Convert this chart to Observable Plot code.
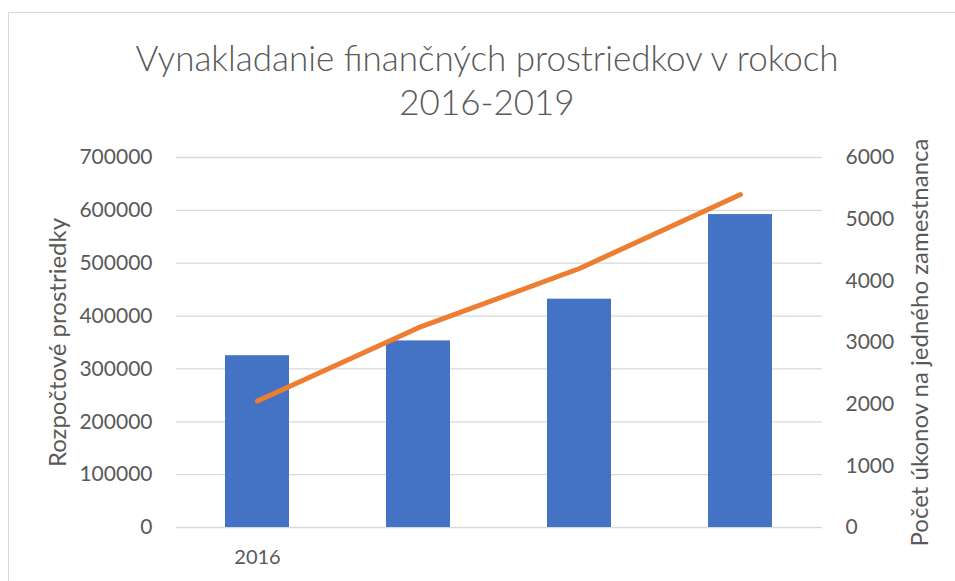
<!DOCTYPE html>
<html>
<head>
<meta charset="utf-8">
<script src="https://cdn.jsdelivr.net/npm/d3@7"></script>
<script src="https://cdn.jsdelivr.net/npm/@observablehq/plot@0.6"></script>
<style>
  html, body { margin: 0; padding: 0; background: #fff; }
  #wrap { position: relative; width: 955px; height: 581px; overflow: hidden; font-family: Lato, "Open Sans", sans-serif; }
  #frame { position: absolute; left: 8px; top: 12px; width: 960px; height: 600px; border: 1px solid #d9d9d9; box-sizing: border-box; }
  #title { position: absolute; left: 19px; top: 35px; width: 936px; text-align: center; font-size: 35px; font-weight: 300; line-height: 44px; color: #595959; }
  #chart { position: absolute; left: 0; top: 140px; }
</style>
</head>
<body>
<div id="wrap">
  <div id="frame"></div>
  <div id="title">Vynakladanie finančných prostriedkov v rokoch<br>2016-2019</div>
  <div id="chart"></div>
</div>
<script>
const years = ["2016", "2017", "2018", "2019"];
const xTickLabels = ["2016", "", "", ""];
const budget = [325000, 353000, 432000, 592000];
const actsPerEmployee = [2050, 3240, 4200, 5400];
const leftTicks = [0, 100000, 200000, 300000, 400000, 500000, 600000, 700000];
const rightTicks = [0, 1000, 2000, 3000, 4000, 5000, 6000];
const leftTitle = "Rozpočtové prostriedky";
const rightTitle = "Počet úkonov na jedného zamestnanca";

const leftMax = 700000, rightMax = 6000;
const k = leftMax / rightMax;
const rows = years.map((y, i) => ({year: y, budget: budget[i], acts: actsPerEmployee[i]}));
const grey = "#595959";

const chart = Plot.plot({
  width: 955,
  height: 441,
  marginTop: 17,
  marginBottom: 54,
  marginLeft: 176,
  marginRight: 133,
  style: {fontFamily: "Lato, 'Open Sans', sans-serif", fontSize: "21px", color: grey, background: "transparent"},
  x: {domain: years, paddingInner: 0.6, paddingOuter: 0.3},
  y: {domain: [0, leftMax]},
  marks: [
    Plot.gridY(leftTicks, {stroke: "#d9d9d9", strokeOpacity: 1, strokeWidth: 1.3}),
    Plot.barY(rows, {x: "year", y: "budget", fill: "#4472C4"}),
    Plot.line(rows, {x: "year", y: d => d.acts * k, stroke: "#ED7D31", strokeWidth: 5, strokeLinecap: "round", strokeLinejoin: "round"}),
    Plot.axisX({tickSize: 0, tickPadding: 22, tickFormat: (d) => xTickLabels[years.indexOf(d)], label: null, fontSize: 20, fill: grey}),
    Plot.axisY(leftTicks, {anchor: "left", tickSize: 0, tickPadding: 24, tickFormat: d => String(d), label: null, fontSize: 21, fill: grey}),
    Plot.axisY(rightTicks.map(v => v * k), {anchor: "right", tickSize: 0, tickPadding: 23, tickFormat: d => String(Math.round(d / k)), label: null, fontSize: 21, fill: grey}),
    Plot.text([leftTitle], {frameAnchor: "left", text: d => d, rotate: -90, textAnchor: "middle", dx: -118, fontSize: 24, fill: grey}),
    Plot.text([rightTitle], {frameAnchor: "right", text: d => d, rotate: -90, textAnchor: "middle", dx: 98, fontSize: 24, fill: grey})
  ]
});
document.getElementById("chart").appendChild(chart);
</script>
</body>
</html>
